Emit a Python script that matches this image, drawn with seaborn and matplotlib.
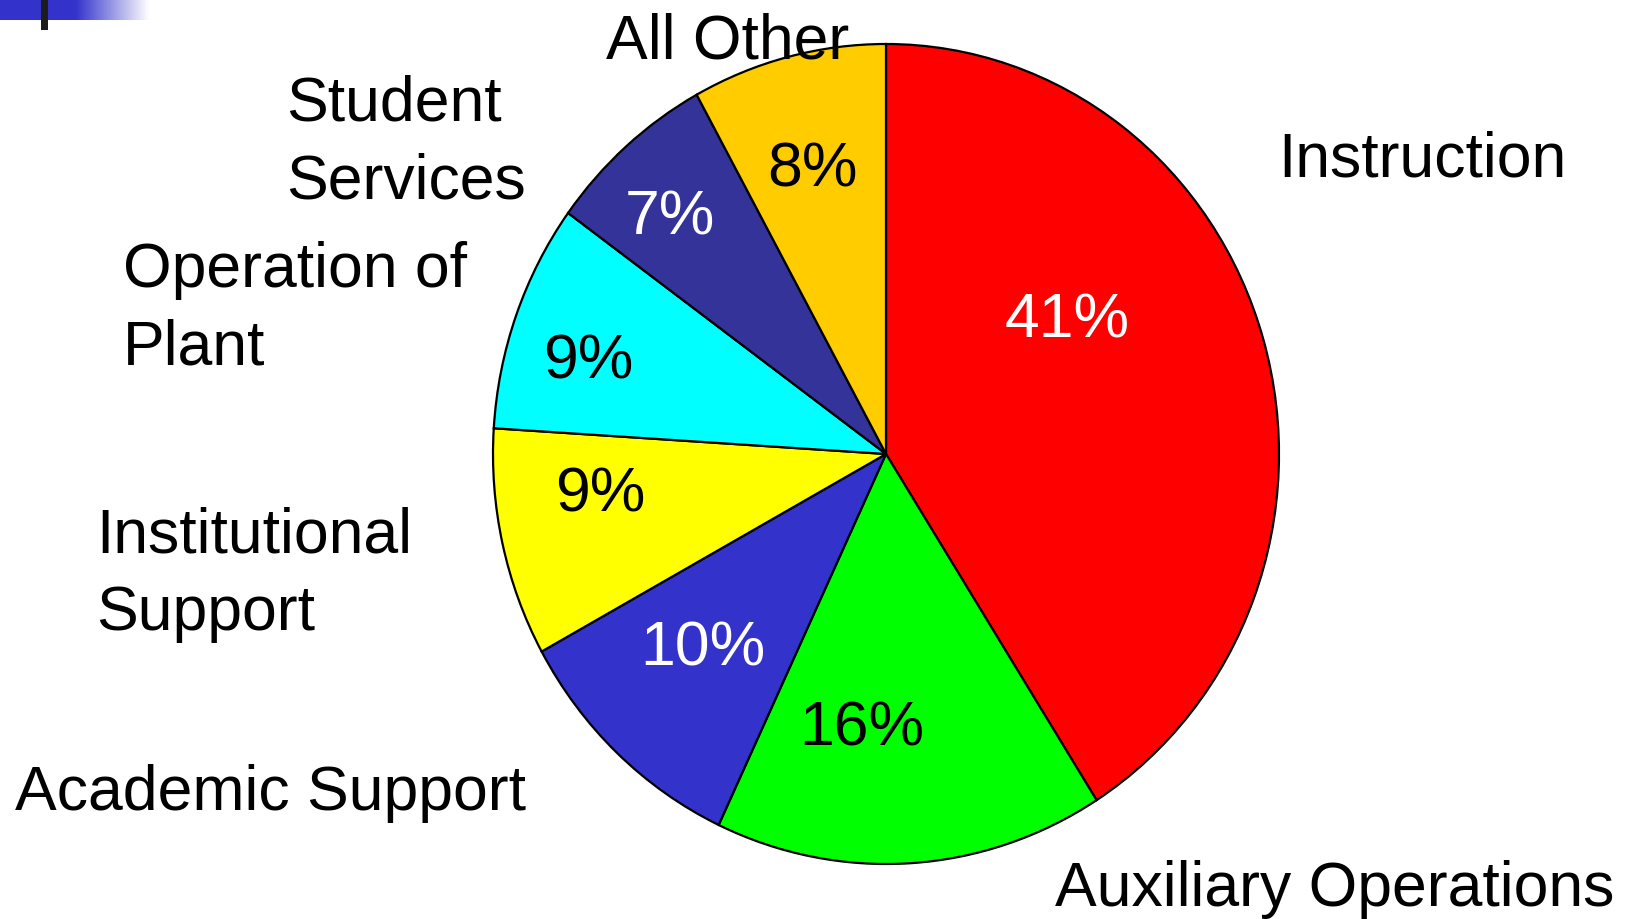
import seaborn as sns
import matplotlib.pyplot as plt
import numpy as np
from matplotlib.colors import LinearSegmentedColormap

# chart data
categories = ['Instruction', 'Auxiliary Operations', 'Academic Support',
              'Institutional Support', 'Operation of Plant', 'Student Services', 'All Other']
shares = [41, 16, 10, 9, 9, 7, 8]
colors = ['#FF0000', '#00FF00', '#3333CC', '#FFFF00', '#00FFFF', '#333399', '#FFCC00']
pct_colors = ['white', 'black', 'white', 'black', 'black', 'white', 'black']

sns.set_style('white')
plt.rcParams['font.family'] = ['Liberation Sans', 'DejaVu Sans']
plt.rcParams['text.color'] = 'black'

W, H = 1629, 920
fig = plt.figure(figsize=(W / 100, H / 100), dpi=100)

# pie axes placed in pixels: centre (886, 455), radii 393 x 410
cx, cy, rx, ry = 886, 455, 393, 410
ax = fig.add_axes([(cx - rx) / W, (H - cy - ry) / H, 2 * rx / W, 2 * ry / H])
ax.pie(shares, colors=colors, startangle=90, counterclock=False,
       wedgeprops=dict(edgecolor='black', linewidth=1.6))
ax.set_aspect('auto')
ax.set_xlim(-1, 1)
ax.set_ylim(-1, 1)
ax.axis('off')

fs = 45

def px(x, y, s, **kw):
    fig.text(x / W, 1 - y / H, s, fontsize=kw.pop('fontsize', fs), **kw)

# category labels
px(1278, 160, 'Instruction', ha='left', va='center')
px(1055, 890, 'Auxiliary Operations', ha='left', va='center')
px(15, 794, 'Academic Support', ha='left', va='center')
px(96, 575, 'Institutional\nSupport', ha='left', va='center', linespacing=1.4)
px(123, 309, 'Operation of\nPlant', ha='left', va='center', linespacing=1.4)
px(286, 143, 'Student\nServices', ha='left', va='center', linespacing=1.4)
px(606, 42, 'All Other', ha='left', va='center')

# percentage labels
pct_pos = [(1067, 321), (862, 729), (703, 649), (600, 495), (588, 362), (670, 218), (812, 170)]
for v, (x, y), c in zip(shares, pct_pos, pct_colors):
    px(x, y, f'{v}%', ha='center', va='center', color=c)

# decoration in top-left corner
deco = fig.add_axes([0, 1 - 21 / H, 150 / W, 21 / H])
grad = np.concatenate([np.ones(75), np.linspace(1, 0, 75)])[None, :]
cmap = LinearSegmentedColormap.from_list('b', ['#FFFFFF', '#3333CC'])
deco.imshow(grad, cmap=cmap, aspect='auto', extent=[0, 1, 0, 1])
deco.axis('off')
bar = fig.add_axes([41 / W, 1 - 31 / H, 7 / W, 31 / H])
bar.set_facecolor('#1C1C1C')
bar.set_xticks([])
bar.set_yticks([])
for s in bar.spines.values():
    s.set_visible(False)

fig.savefig('out.png', dpi=100)
